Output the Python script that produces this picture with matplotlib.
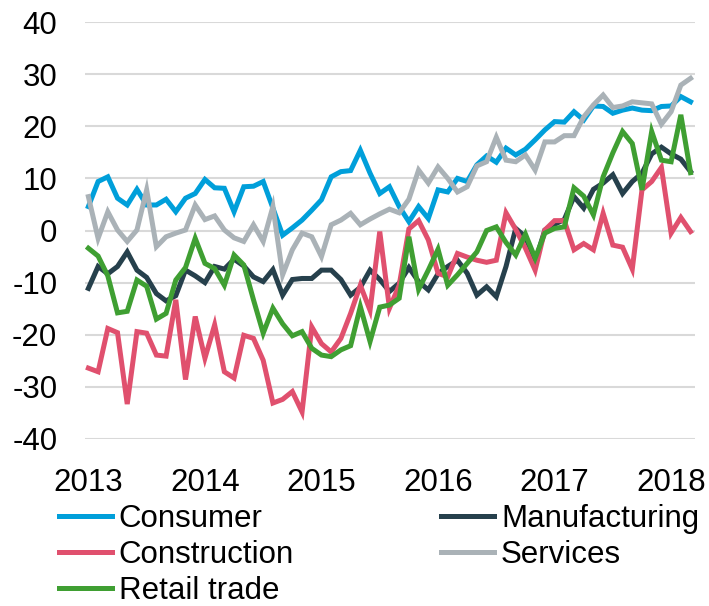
import matplotlib.pyplot as plt
import numpy as np

plt.rcParams['font.family'] = ['Liberation Sans', 'DejaVu Sans']
plt.rcParams['axes.unicode_minus'] = False

# monthly survey balances, Jan 2013 - Mar 2018
years = ['2013', '2014', '2015', '2016', '2017', '2018']

consumer = [4.6, 9.4, 10.3, 6.2, 4.9, 7.9, 4.9, 4.9, 6.0, 3.6, 6.2, 7.1, 9.8, 8.2, 8.1, 3.6,
            8.4, 8.5, 9.4, 4.3, -0.9, 0.5, 2.0, 3.9, 5.9, 10.3, 11.3, 11.5, 15.4, 11.0, 7.1, 8.4,
            4.6, 1.7, 4.6, 2.3, 7.8, 7.4, 10.0, 9.4, 12.6, 14.3, 13.1, 15.8, 14.5, 15.6, 17.4, 19.3,
            20.9, 20.8, 22.8, 21.2, 23.9, 23.8, 22.5, 23.1, 23.5, 23.1, 23.0, 23.8, 23.9, 25.7, 24.7]
manufacturing = [-11.1, -6.9, -8.3, -6.9, -4.1, -7.6, -9.0, -12.1, -13.5, -12.5, -7.6, -8.7, -10.0, -6.9, -7.4, -5.5,
                 -6.8, -8.9, -9.8, -7.5, -12.4, -9.4, -9.2, -9.2, -7.6, -7.6, -9.4, -12.4, -10.9, -7.6, -9.4, -11.7,
                 -10.1, -7.1, -9.8, -11.4, -8.3, -6.9, -5.7, -8.2, -12.4, -10.8, -12.7, -6.9, 0.4, -1.2, -6.0, 0.1,
                 1.2, 2.1, 6.5, 4.3, 7.9, 9.1, 10.7, 7.1, 9.4, 11.0, 14.7, 16.0, 14.7, 13.7, 11.3]
construction = [-26.4, -27.1, -18.8, -19.6, -33.3, -19.4, -19.7, -23.9, -24.1, -13.3, -28.6, -16.5, -24.5, -18.1, -27.1, -28.3,
                -20.1, -20.7, -24.9, -33.1, -32.4, -30.9, -34.8, -18.5, -21.7, -23.3, -20.7, -15.9, -10.5, -15.3, -0.2, -14.9,
                -10.5, 0.3, 1.9, -1.8, -8.2, -8.9, -4.4, -5.1, -5.7, -6.1, -5.7, 3.4, 0.2, -3.4, -7.6, 0.1,
                1.9, 1.9, -3.7, -2.5, -3.7, 3.3, -2.8, -3.2, -7.4, 7.8, 9.4, 12.1, -0.5, 2.5, -0.2]
services = [6.5, -1.5, 3.6, 0.1, -2.1, 0.1, 7.8, -3.1, -1.2, -0.5, 0.1, 4.9, 2.1, 2.8, 0.1, -1.4,
            -2.1, 1.1, -2.1, 4.6, -8.5, -3.7, -0.5, -1.2, -5.0, 1.1, 2.0, 3.3, 1.1, 2.2, 3.2, 4.1,
            3.4, 6.0, 11.6, 9.1, 12.2, 10.0, 7.4, 8.4, 12.4, 13.2, 17.9, 13.5, 13.2, 14.5, 11.6, 17.0,
            17.0, 18.2, 18.2, 21.8, 24.1, 26.0, 23.6, 23.9, 24.7, 24.5, 24.3, 20.4, 22.8, 27.9, 29.2]
retail = [-3.4, -4.9, -8.7, -15.8, -15.5, -9.5, -10.7, -17.0, -15.9, -9.5, -7.1, -1.5, -6.3, -7.3, -10.5, -4.7,
          -6.6, -13.3, -19.7, -14.9, -17.9, -20.2, -19.4, -22.6, -23.9, -24.2, -22.9, -22.1, -14.6, -21.3, -14.7, -14.3,
          -13.0, -1.2, -11.3, -7.6, -3.6, -10.5, -8.5, -6.3, -4.1, 0.0, 0.7, -2.3, -4.7, -0.7, -5.3, -0.5,
          0.4, 0.7, 8.2, 6.6, 3.0, 10.3, 14.9, 19.0, 16.7, 7.8, 19.0, 13.5, 13.2, 22.2, 11.1]

series = [
    ('Consumer', consumer, '#009fda'),
    ('Construction', construction, '#e0506e'),
    ('Retail trade', retail, '#3f9f32'),
    ('Manufacturing', manufacturing, '#26404c'),
    ('Services', services, '#aab2b7'),
]
draw_order = ['Consumer', 'Manufacturing', 'Construction', 'Services', 'Retail trade']

fig = plt.figure(figsize=(7.09, 6.06), dpi=100)
ax = fig.add_axes([0.12, 0.2756, 0.86, 0.688])

x = np.arange(len(consumer))
handles = {}
for name in draw_order:
    vals, col = [(v, c) for n, v, c in series if n == name][0]
    handles[name], = ax.plot(x, vals, color=col, lw=3.6, solid_joinstyle='miter', label=name)

ax.set_ylim(-40, 40)
ax.set_xlim(-0.34, 62.44)
ax.set_yticks(np.arange(-40, 41, 10))
ax.set_xticks(np.arange(0, 61, 12))
ax.set_xticklabels(years)
ax.tick_params(length=0, labelsize=22.5, colors='black')
ax.tick_params(axis='y', pad=20)
ax.tick_params(axis='x', pad=21)
ax.grid(axis='y', color='#d9d9d9', lw=1.5)
ax.set_axisbelow(True)
for s in ax.spines.values():
    s.set_visible(False)

fig.legend([handles[n] for n, _, _ in series], [n for n, _, _ in series],
           ncol=2, loc='upper left', bbox_to_anchor=(0.083, 0.169),
           frameon=False, fontsize=22.5, borderpad=0, handlelength=1.7,
           handletextpad=0.22, labelspacing=0.2, columnspacing=4.7,
           borderaxespad=0)

fig.savefig('out.png', dpi=100)
